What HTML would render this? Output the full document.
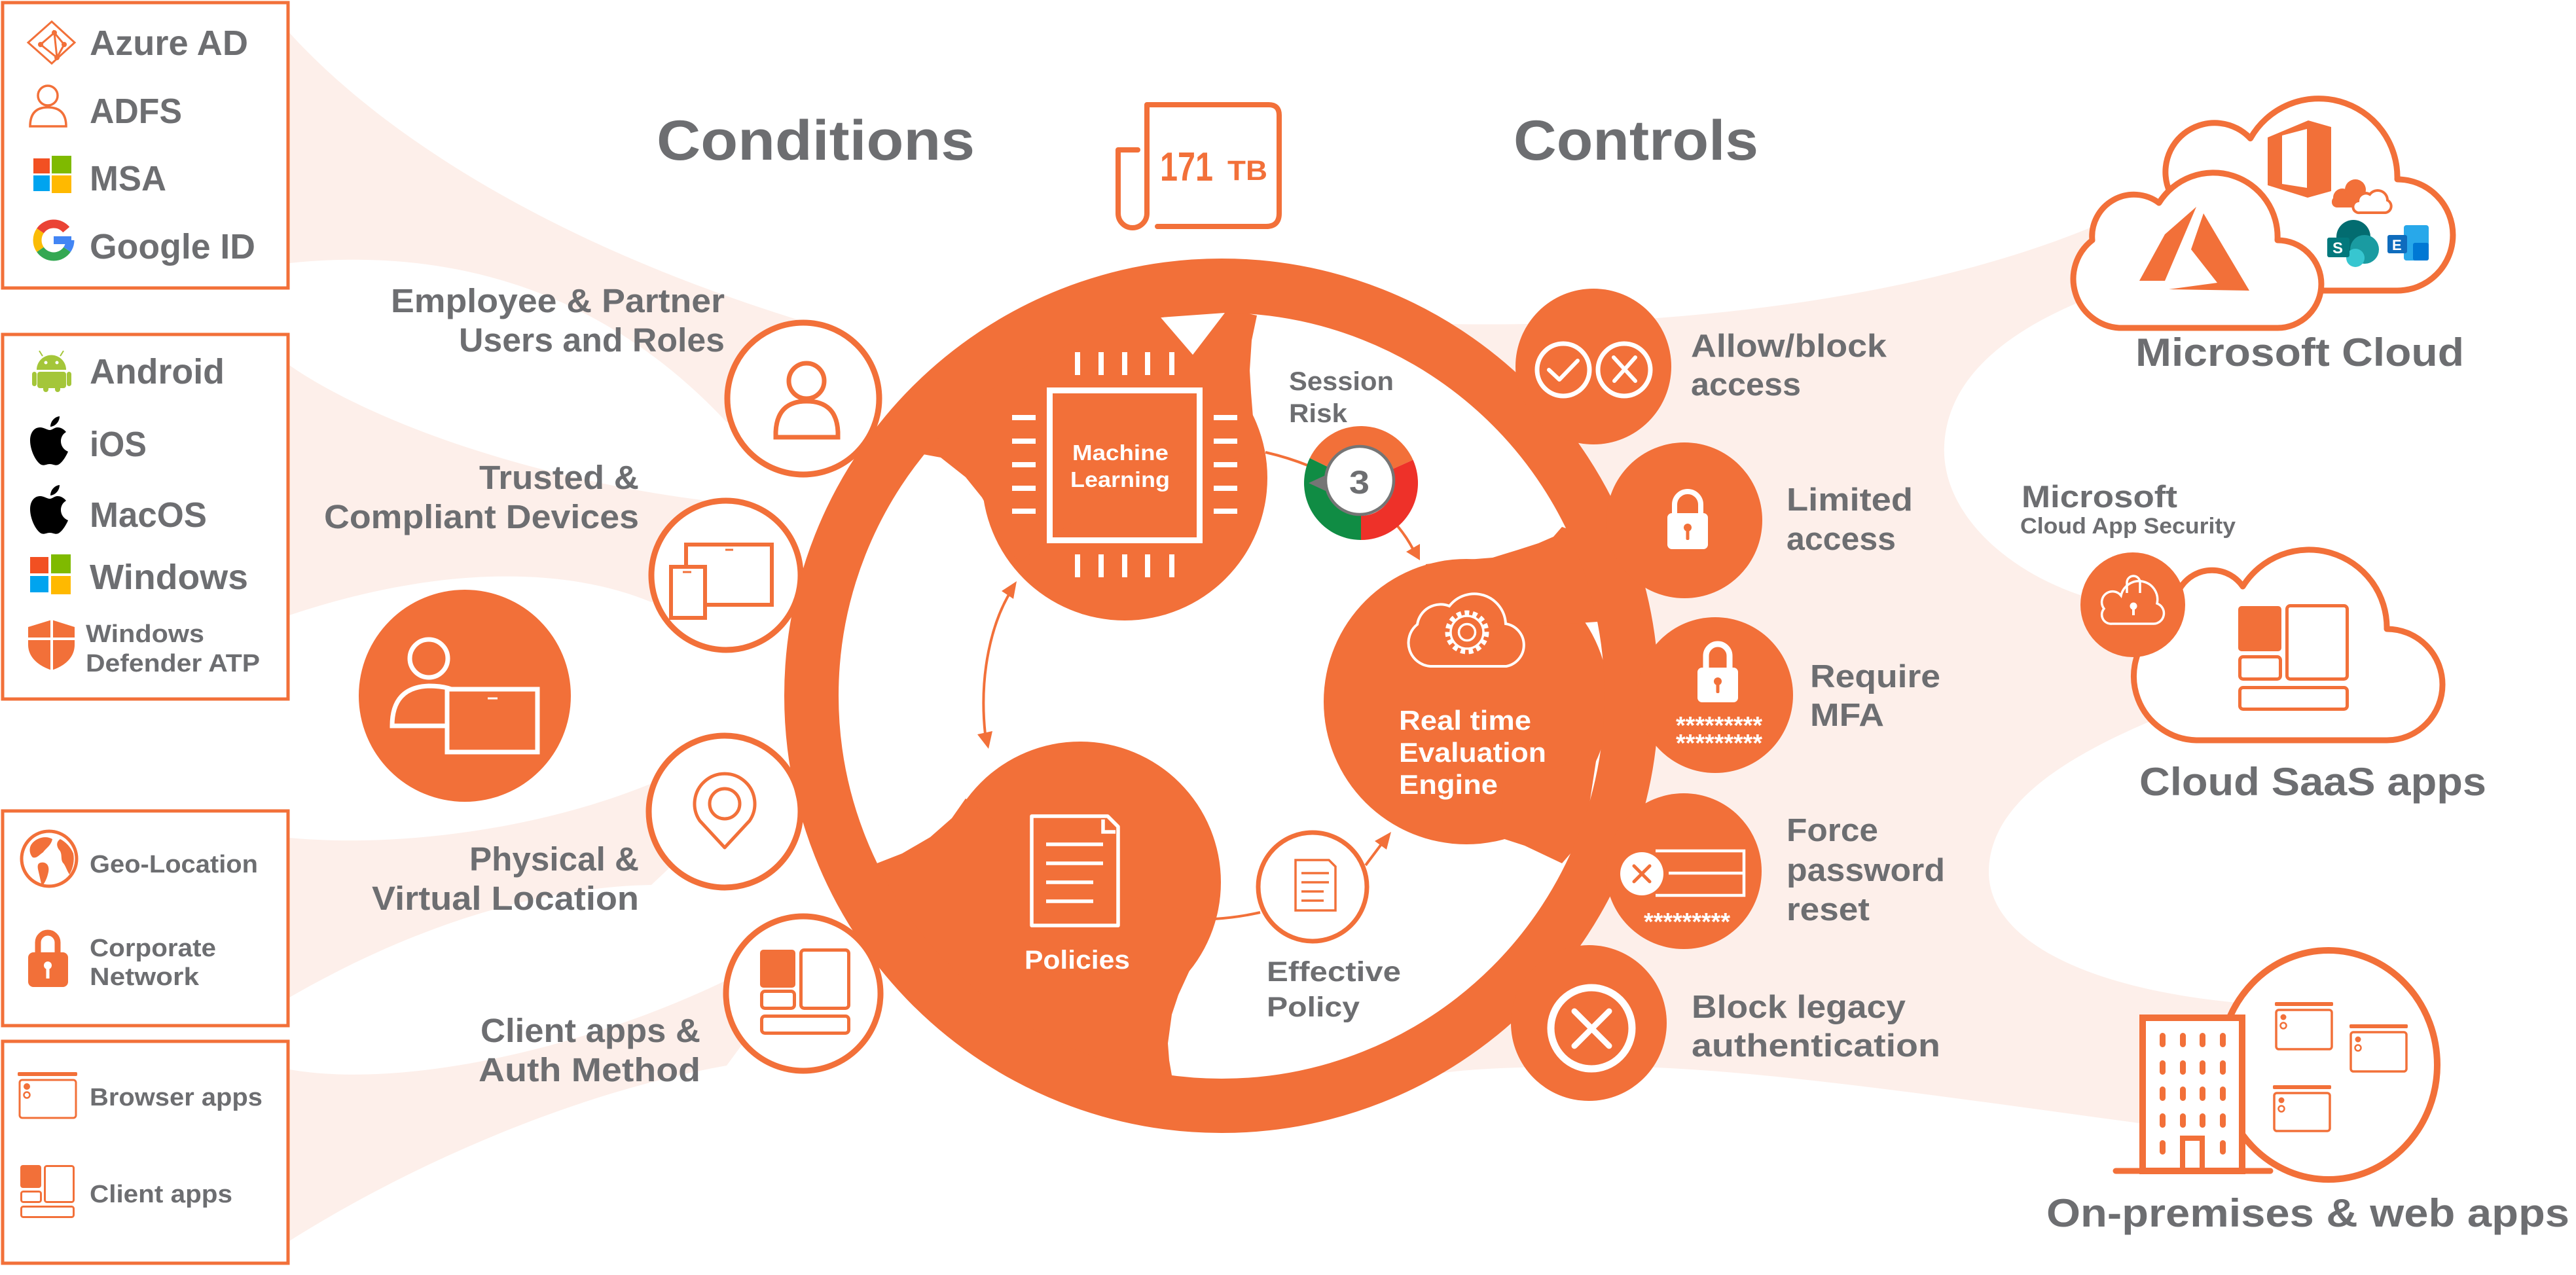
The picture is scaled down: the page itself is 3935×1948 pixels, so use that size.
<!DOCTYPE html>
<html><head><meta charset="utf-8"><style>
html,body{margin:0;padding:0;background:#fff;}
svg{display:block;}
text{font-family:"Liberation Sans",Arial,sans-serif;font-weight:700;}
</style></head><body>
<svg width="3935" height="1948" viewBox="0 0 3935 1948" xmlns="http://www.w3.org/2000/svg">
<rect width="3935" height="1948" fill="#fff"/>

<!-- pink bands -->
<g fill="#FDEFEA">
<path d="M442,50 C560,180 800,360 1230,492 L1180,600 L1110,645 C900,420 650,380 442,402 Z"/>
<path d="M442,558 C560,640 800,730 1080,765 L1050,900 L995,920 C850,860 650,870 442,940 Z"/>
<path d="M442,1280 C600,1295 820,1270 1000,1195 L1050,1300 L995,1352 C830,1355 640,1410 442,1524 Z"/>
<path d="M442,1634 C620,1665 900,1600 1115,1495 L1160,1560 L1110,1628 C900,1665 650,1765 442,1896 Z"/>
<path d="M2210,495 C2500,500 2900,470 3200,345 L3300,400 L3180,460 C3060,510 2975,580 2970,680 C2965,780 3060,870 3180,910 L3260,930 L3300,1100 L3280,1104 C3150,1160 3040,1230 3038,1330 C3036,1440 3200,1520 3470,1536 L3400,1700 L3268,1716 C3000,1680 2700,1635 2500,1630 C2350,1628 2250,1632 2200,1640 L2200,1597 L2311,1508 L2412,1378 L2474,1226 L2496,1063 L2474,900 L2412,748 L2311,618 L2227,547 Z"/>
</g>

<!-- left boxes -->
<g fill="none" stroke="#F27039" stroke-width="5">
<rect x="4" y="4" width="436" height="436"/>
<rect x="4" y="511" width="436" height="557"/>
<rect x="4" y="1239" width="436" height="328"/>
<rect x="4" y="1591" width="436" height="339"/>
</g>

<!-- box1 icons -->
<g fill="none" stroke="#F27039" stroke-width="3">
<polygon points="79,33 114,65 79,97 43,65"/>
<polyline points="83,50 62,68 87,88 83,50 98,68 87,88"/>
</g>
<g fill="#F27039"><circle cx="83" cy="50" r="4"/><circle cx="62" cy="68" r="4"/><circle cx="98" cy="68" r="4"/><circle cx="87" cy="88" r="4"/></g>
<g fill="none" stroke="#F27039" stroke-width="3.5">
<circle cx="73" cy="146" r="15"/>
<path d="M46,193 Q46,164 73,164 Q101,164 101,193 Z"/>
</g>
<rect x="51" y="242" width="25" height="23" fill="#F25022"/>
<rect x="79" y="238" width="30" height="27" fill="#7FBA00"/>
<rect x="51" y="268" width="25" height="24" fill="#00A4EF"/>
<rect x="79" y="268" width="30" height="27" fill="#FFB900"/>
<g fill="none" stroke-width="13">
<path d="M61.5,352.7 A25,25 0 0 1 101.2,350.9" stroke="#EA4335"/>
<path d="M61.5,381.3 A25,25 0 0 1 61.5,352.7" stroke="#FBBC05"/>
<path d="M102.5,381.3 A25,25 0 0 1 61.5,381.3" stroke="#34A853"/>
<path d="M107,367 A25,25 0 0 1 102.5,381.3" stroke="#4285F4"/>
</g>
<rect x="82" y="361" width="27" height="12" fill="#4285F4"/>

<!-- box1 text -->
<g fill="#6D6E71">
<text x="137" y="84" font-size="54" textLength="242" lengthAdjust="spacingAndGlyphs">Azure AD</text>
<text x="137" y="188" font-size="54" textLength="141" lengthAdjust="spacingAndGlyphs">ADFS</text>
<text x="137" y="291" font-size="54" textLength="117" lengthAdjust="spacingAndGlyphs">MSA</text>
<text x="137" y="395" font-size="54" textLength="253" lengthAdjust="spacingAndGlyphs">Google ID</text>
<text x="137" y="586" font-size="54" textLength="206" lengthAdjust="spacingAndGlyphs">Android</text>
<text x="137" y="697" font-size="54" textLength="87" lengthAdjust="spacingAndGlyphs">iOS</text>
<text x="137" y="805" font-size="54" textLength="179" lengthAdjust="spacingAndGlyphs">MacOS</text>
<text x="137" y="900" font-size="54" textLength="242" lengthAdjust="spacingAndGlyphs">Windows</text>
<text x="131" y="981" font-size="38" textLength="181" lengthAdjust="spacingAndGlyphs">Windows</text>
<text x="131" y="1026" font-size="38" textLength="266" lengthAdjust="spacingAndGlyphs">Defender ATP</text>
<text x="137" y="1333" font-size="38" textLength="257" lengthAdjust="spacingAndGlyphs">Geo-Location</text>
<text x="137" y="1461" font-size="38" textLength="193" lengthAdjust="spacingAndGlyphs">Corporate</text>
<text x="137" y="1505" font-size="38" textLength="167" lengthAdjust="spacingAndGlyphs">Network</text>
<text x="137" y="1689" font-size="38" textLength="264" lengthAdjust="spacingAndGlyphs">Browser apps</text>
<text x="137" y="1837" font-size="38" textLength="218" lengthAdjust="spacingAndGlyphs">Client apps</text>
</g>

<!-- box2 icons -->
<g fill="#A4C639">
<path d="M56,565 A22.5,22.5 0 0 1 101,565 Z"/>
<rect x="57" y="568" width="44" height="25" rx="4"/>
<rect x="49" y="568" width="7" height="22" rx="3.5"/>
<rect x="102" y="568" width="7" height="22" rx="3.5"/>
<rect x="66" y="585" width="8" height="14" rx="4"/>
<rect x="84" y="585" width="8" height="14" rx="4"/>
</g>
<g stroke="#A4C639" stroke-width="2"><line x1="65" y1="544" x2="60" y2="536"/><line x1="92" y1="544" x2="97" y2="536"/></g>
<circle cx="70" cy="554" r="2.5" fill="#fff"/><circle cx="87" cy="554" r="2.5" fill="#fff"/>
<g fill="#000">
<g transform="translate(46,636)">
<path d="M31,16 C31,8 37,1 45,0 C45,8 39,15 31,16 Z"/>
<path d="M30,21 C26,21 21,17 15,17 C7,17 0,24 0,37 C0,52 9,70 17,74 C22,76 25,73 30,73 C35,73 38,76 43,74 C49,71 55,61 58,54 C51,51 47,45 47,38 C47,32 50,27 55,24 C51,19 46,17 42,17 C37,17 34,21 30,21 Z"/>
</g>
<g transform="translate(46,741)">
<path d="M31,16 C31,8 37,1 45,0 C45,8 39,15 31,16 Z"/>
<path d="M30,21 C26,21 21,17 15,17 C7,17 0,24 0,37 C0,52 9,70 17,74 C22,76 25,73 30,73 C35,73 38,76 43,74 C49,71 55,61 58,54 C51,51 47,45 47,38 C47,32 50,27 55,24 C51,19 46,17 42,17 C37,17 34,21 30,21 Z"/>
</g>
</g>
<rect x="46" y="851" width="28" height="25" fill="#F25022"/>
<rect x="78" y="847" width="30" height="29" fill="#7FBA00"/>
<rect x="46" y="880" width="28" height="25" fill="#00A4EF"/>
<rect x="78" y="880" width="30" height="28" fill="#FFB900"/>
<path d="M43,958 L79,947 L114,958 L114,985 C114,1005 98,1018 79,1024 C60,1018 43,1005 43,985 Z" fill="#F27039"/>
<path d="M79,947 V1024 M43,976 H114" stroke="#fff" stroke-width="4"/>

<!-- box3 icons -->
<circle cx="75" cy="1312" r="42" fill="#fff" stroke="#F27039" stroke-width="5"/>
<g fill="#F27039">
<path d="M48,1290 C55,1280 70,1276 80,1282 C78,1292 70,1296 66,1302 C60,1306 56,1312 50,1310 C45,1305 44,1296 48,1290 Z"/>
<path d="M62,1318 C70,1316 76,1322 74,1332 C72,1342 68,1350 64,1354 C62,1346 60,1336 58,1328 C57,1322 58,1319 62,1318 Z"/>
<path d="M92,1282 C100,1286 108,1294 112,1304 C114,1314 112,1326 106,1336 C102,1330 100,1322 96,1318 C92,1312 96,1304 90,1298 C86,1292 86,1286 92,1282 Z"/>
</g>
<path d="M58,1458 V1440 A15,15 0 0 1 88,1440 V1458" fill="none" stroke="#F27039" stroke-width="9"/>
<rect x="43" y="1455" width="61" height="53" rx="8" fill="#F27039"/>
<circle cx="73" cy="1475" r="6" fill="#fff"/><rect x="70.5" y="1475" width="5" height="20" fill="#fff"/>

<!-- box4 icons -->
<g transform="translate(27,1641)">
<rect x="0" y="-3" width="91" height="6" rx="2" fill="#F27039"/>
<rect x="3" y="9" width="86" height="58" rx="4" fill="#fff" stroke="#F27039" stroke-width="3"/>
<circle cx="14" cy="19" r="5" fill="#F27039"/>
<circle cx="14" cy="32" r="4.5" fill="none" stroke="#F27039" stroke-width="2.5"/>
</g>
<rect x="31" y="1780" width="32" height="35" rx="4" fill="#F27039"/>
<g fill="none" stroke="#F27039" stroke-width="3">
<rect x="68.5" y="1781.5" width="44" height="55" rx="3"/>
<rect x="32.5" y="1820.5" width="30" height="16" rx="3"/>
<rect x="32.5" y="1843.5" width="80" height="16" rx="3"/>
</g>

<!-- left labels -->
<g fill="#6D6E71" font-size="51">
<text x="597" y="477" font-size="51" textLength="510" lengthAdjust="spacingAndGlyphs">Employee &amp; Partner</text>
<text x="701" y="537" font-size="51" textLength="406" lengthAdjust="spacingAndGlyphs">Users and Roles</text>
<text x="732" y="747" font-size="51" textLength="244" lengthAdjust="spacingAndGlyphs">Trusted &amp;</text>
<text x="495" y="807" font-size="51" textLength="481" lengthAdjust="spacingAndGlyphs">Compliant Devices</text>
<text x="717" y="1330" font-size="51" textLength="259" lengthAdjust="spacingAndGlyphs">Physical &amp;</text>
<text x="568" y="1390" font-size="51" textLength="408" lengthAdjust="spacingAndGlyphs">Virtual Location</text>
<text x="734" y="1592" font-size="51" textLength="336" lengthAdjust="spacingAndGlyphs">Client apps &amp;</text>
<text x="731" y="1652" font-size="51" textLength="339" lengthAdjust="spacingAndGlyphs">Auth Method</text>
</g>

<!-- titles -->
<g fill="#6D6E71">
<text x="1003" y="244" font-size="86" textLength="486" lengthAdjust="spacingAndGlyphs">Conditions</text>
<text x="2312" y="244" font-size="86" textLength="374" lengthAdjust="spacingAndGlyphs">Controls</text>
</g>

<!-- 171 TB scroll -->
<path d="M1738,229 L1708,229 L1708,326 A22,22 0 0 0 1752,326 L1752,160 L1938,160 Q1954,160 1954,176 L1954,326 Q1954,346 1934,346 L1768,346" fill="none" stroke="#F27039" stroke-width="8" stroke-linecap="round" stroke-linejoin="round"/>
<text x="1772" y="276" font-size="62" fill="#F27039" textLength="81" lengthAdjust="spacingAndGlyphs">171</text>
<text x="1875" y="275" font-size="43" fill="#F27039" textLength="61" lengthAdjust="spacingAndGlyphs">TB</text>

<!-- left outline circles -->
<g fill="#fff" stroke="#F27039" stroke-width="9">
<circle cx="1227" cy="609" r="116"/>
<circle cx="1109" cy="879" r="114"/>
<circle cx="1107" cy="1240" r="116"/>
<circle cx="1227" cy="1518" r="118"/>
</g>
<!-- user icon -->
<g fill="none" stroke="#F27039" stroke-width="7">
<circle cx="1232" cy="582" r="27"/>
<path d="M1185,668 L1185,660 Q1187,613 1232,613 Q1278,613 1280,660 L1280,668 Z"/>
</g>
<!-- devices icon -->
<g stroke="#F27039" stroke-width="6">
<rect x="1048" y="832" width="131" height="92" fill="#fff"/>
<rect x="1025" y="866" width="52" height="78" fill="#fff"/>
</g>
<g stroke="#F27039" stroke-width="3"><line x1="1108" y1="840" x2="1120" y2="840"/><line x1="1043" y1="874" x2="1056" y2="874"/></g>
<!-- pin icon -->
<g fill="none" stroke="#F27039" stroke-width="5">
<path d="M1107,1295 L1069,1254 A46,46 0 1 1 1145,1254 Z" stroke-linejoin="round"/>
<circle cx="1107" cy="1228" r="23"/>
</g>
<!-- client apps icon -->
<rect x="1161" y="1451" width="54" height="58" rx="5" fill="#F27039"/>
<g fill="none" stroke="#F27039" stroke-width="5">
<rect x="1223.5" y="1451.5" width="73" height="89" rx="5"/>
<rect x="1163.5" y="1514.5" width="50" height="26" rx="5"/>
<rect x="1163.5" y="1552.5" width="133" height="26" rx="5"/>
</g>

<!-- person laptop -->
<circle cx="710" cy="1063" r="162" fill="#F27039"/>
<g fill="none" stroke="#fff" stroke-width="7">
<circle cx="655" cy="1006" r="29"/>
<path d="M700,1109 L599,1109 Q599,1050 655,1048 Q690,1048 705,1062"/>
</g>
<rect x="683" y="1053" width="138" height="96" fill="#F27039" stroke="#fff" stroke-width="7"/>
<line x1="745" y1="1067" x2="760" y2="1067" stroke="#fff" stroke-width="3"/>

<!-- central orange structure -->
<g fill="#F27039">
<circle cx="1718" cy="730" r="218"/>
<polygon points="1410,694 1437,699 1475,729 1500,760 1519,794 1529,821 1545,845 1557,859 1700,750 1931,688 1922,665 1914,637 1911,600 1909,566 1912,520 1920,482 1866,470 1700,485 1550,525 1430,600 1395,660"/>
<circle cx="1650" cy="1348" r="215"/>
<polygon points="1337,1320 1378,1304 1421,1279 1454,1250 1475,1220 1650,1348 1855,1404 1836,1445 1817,1483 1800,1520 1790,1550 1784,1594 1786,1620 1790,1643 1757,1680 1601,1630 1464,1543 1353,1422 1313,1357"/>
<circle cx="2240" cy="1072" r="218"/>
<polygon points="2178,862 2230,856 2280,852 2319,840 2350,830 2373,820 2386,805 2430,820 2440,950 2300,960 2178,900"/>
<polygon points="2286,1278 2329,1292 2386,1319 2420,1280 2440,1150 2300,1200"/>
</g>
<polygon points="1773,485 1871,478 1822,542" fill="#fff"/>
<circle cx="1866" cy="1063" r="626.5" fill="none" stroke="#F27039" stroke-width="83"/>

<!-- control circles -->
<g fill="#F27039">
<circle cx="2434" cy="560" r="119"/>
<circle cx="2573" cy="795" r="119"/>
<circle cx="2620" cy="1062" r="119"/>
<circle cx="2572" cy="1331" r="119"/>
<circle cx="2427" cy="1563" r="119"/>
</g>

<!-- chip -->
<rect x="1603.5" y="596.5" width="229" height="229" fill="none" stroke="#fff" stroke-width="9"/>
<g fill="#fff">
<rect x="1642" y="538" width="8" height="35"/><rect x="1678" y="538" width="8" height="35"/><rect x="1714" y="538" width="8" height="35"/><rect x="1749" y="538" width="8" height="35"/><rect x="1786" y="538" width="8" height="35"/>
<rect x="1642" y="847" width="8" height="35"/><rect x="1678" y="847" width="8" height="35"/><rect x="1714" y="847" width="8" height="35"/><rect x="1749" y="847" width="8" height="35"/><rect x="1786" y="847" width="8" height="35"/>
<rect x="1546" y="634" width="36" height="8"/><rect x="1546" y="670" width="36" height="8"/><rect x="1546" y="706" width="36" height="8"/><rect x="1546" y="742" width="36" height="8"/><rect x="1546" y="777" width="36" height="8"/>
<rect x="1854" y="634" width="36" height="8"/><rect x="1854" y="670" width="36" height="8"/><rect x="1854" y="706" width="36" height="8"/><rect x="1854" y="742" width="36" height="8"/><rect x="1854" y="777" width="36" height="8"/>
</g>
<g fill="#fff">
<text x="1638" y="703" font-size="33" textLength="147" lengthAdjust="spacingAndGlyphs">Machine</text>
<text x="1635" y="744" font-size="33" textLength="152" lengthAdjust="spacingAndGlyphs">Learning</text>
</g>

<!-- policies doc -->
<g fill="none" stroke="#fff" stroke-width="5.5">
<path d="M1576,1247 L1692,1247 L1708,1263 L1708,1414 L1576,1414 Z" stroke-linejoin="round"/>
<path d="M1685,1252 L1685,1271 L1704,1271"/>
<path d="M1598,1290 H1685 M1598,1319 H1685 M1598,1348 H1670 M1598,1377 H1670"/>
</g>
<text x="1565" y="1480" font-size="40" fill="#fff" textLength="161" lengthAdjust="spacingAndGlyphs">Policies</text>

<!-- engine -->
<path d="M2185,1018 L2301,1018 A33,33 0 0 0 2300,953 A48,48 0 0 0 2214,926 A36,36 0 0 0 2165,954 A36,36 0 0 0 2185,1018 Z" fill="none" stroke="#fff" stroke-width="4"/>
<circle cx="2241" cy="966" r="30" fill="none" stroke="#fff" stroke-width="7" stroke-dasharray="7 5.5"/>
<circle cx="2241" cy="966" r="25" fill="#F27039" stroke="#fff" stroke-width="3.5"/>
<circle cx="2241" cy="966" r="12.5" fill="none" stroke="#fff" stroke-width="3.5"/>
<g fill="#fff">
<text x="2137" y="1115" font-size="42" textLength="202" lengthAdjust="spacingAndGlyphs">Real time</text>
<text x="2137" y="1164" font-size="42" textLength="225" lengthAdjust="spacingAndGlyphs">Evaluation</text>
<text x="2137" y="1213" font-size="42" textLength="151" lengthAdjust="spacingAndGlyphs">Engine</text>
</g>

<!-- arrows -->
<g fill="none" stroke="#F27039" stroke-width="4">
<path d="M1545,902 C1515,950 1495,1030 1505,1122"/>
<path d="M1933,691 Q1968,699 2000,712"/>
<path d="M2135,804 Q2150,822 2160,842"/>
<path d="M1855,1404 Q1890,1402 1925,1394"/>
<path d="M2086,1322 L2110,1290"/>
</g>
<g fill="#F27039">
<polygon points="1553,888 1548,915 1530,903"/>
<polygon points="1510,1144 1516,1117 1493,1122"/>
<polygon points="2169,856 2148,843 2169,831"/>
<polygon points="2125,1271 2100,1285 2118,1298"/>
</g>

<!-- effective policy -->
<circle cx="2005" cy="1355" r="83" fill="#fff" stroke="#F27039" stroke-width="7"/>
<g fill="none" stroke="#F27039" stroke-width="3.5">
<path d="M1979,1314 L2030,1314 L2040,1324 L2040,1391 L1979,1391 Z"/>
<path d="M1988,1334 H2030 M1988,1348 H2030 M1988,1362 H2022 M1988,1376 H2022"/>
</g>
<g fill="#6D6E71">
<text x="1935" y="1499" font-size="43" textLength="205" lengthAdjust="spacingAndGlyphs">Effective</text>
<text x="1935" y="1553" font-size="43" textLength="142" lengthAdjust="spacingAndGlyphs">Policy</text>
<text x="1969" y="596" font-size="40" textLength="160" lengthAdjust="spacingAndGlyphs">Session</text>
<text x="1969" y="645" font-size="40" textLength="89" lengthAdjust="spacingAndGlyphs">Risk</text>
</g>

<!-- gauge -->
<path d="M2079,825 A87,87 0 0 1 2000.8,699.9 L2034.1,716.1 A50,50 0 0 0 2079,788 Z" fill="#108C44"/>
<path d="M2000.8,699.9 A87,87 0 0 1 2158.5,702.6 L2124.7,717.7 A50,50 0 0 0 2034.1,716.1 Z" fill="#F27039"/>
<path d="M2158.5,702.6 A87,87 0 0 1 2079,825 L2079,788 A50,50 0 0 0 2124.7,717.7 Z" fill="#EE3129"/>
<circle cx="2077" cy="734" r="52" fill="#fff" stroke="#757575" stroke-width="4.5"/>
<polygon points="1999,738 2027,725 2027,751" fill="#757575"/>
<text x="2061" y="754" font-size="50" fill="#6D6E71" textLength="31" lengthAdjust="spacingAndGlyphs">3</text>

<!-- control icons -->
<g fill="none" stroke="#fff" stroke-width="7">
<circle cx="2388" cy="565" r="40"/>
<circle cx="2481" cy="565" r="40"/>
</g>
<g fill="none" stroke="#fff" stroke-width="6" stroke-linecap="round" stroke-linejoin="round">
<polyline points="2366,565 2382,580 2410,551"/>
<path d="M2465,546 L2498,582 M2498,546 L2466,582"/>
</g>
<path d="M2558,788 V771 A20,20 0 0 1 2598,771 V788" fill="none" stroke="#fff" stroke-width="8"/>
<rect x="2547" y="784" width="62" height="55" rx="7" fill="#fff"/>
<circle cx="2578" cy="806" r="6" fill="#F27039"/><rect x="2575.5" y="806" width="5" height="19" rx="2" fill="#F27039"/>
<path d="M2606,1023 V1002 A18,18 0 0 1 2642,1002 V1023" fill="none" stroke="#fff" stroke-width="9"/>
<rect x="2593" y="1020" width="62" height="53" rx="7" fill="#fff"/>
<circle cx="2624" cy="1041" r="6" fill="#F27039"/><rect x="2621.5" y="1041" width="5" height="18" rx="2" fill="#F27039"/>
<g fill="#fff">
<text x="2560" y="1121" font-size="38" textLength="132" lengthAdjust="spacingAndGlyphs">*********</text>
<text x="2560" y="1148" font-size="38" textLength="132" lengthAdjust="spacingAndGlyphs">*********</text>
<text x="2511" y="1421" font-size="38" textLength="132" lengthAdjust="spacingAndGlyphs">*********</text>
</g>
<path d="M2529,1300 H2664 V1368 H2529 M2549,1334 H2664" fill="none" stroke="#fff" stroke-width="4.5"/>
<circle cx="2508" cy="1335" r="33" fill="#fff"/>
<path d="M2496,1323 L2520,1347 M2520,1323 L2496,1347" stroke="#F27039" stroke-width="5" stroke-linecap="round"/>
<circle cx="2431" cy="1571" r="62" fill="none" stroke="#fff" stroke-width="11"/>
<path d="M2405,1545 L2458,1598 M2458,1545 L2405,1598" stroke="#fff" stroke-width="9" stroke-linecap="round"/>

<!-- control labels -->
<g fill="#6D6E71">
<text x="2583" y="545" font-size="49" textLength="299" lengthAdjust="spacingAndGlyphs">Allow/block</text>
<text x="2583" y="604" font-size="49" textLength="168" lengthAdjust="spacingAndGlyphs">access</text>
<text x="2729" y="780" font-size="49" textLength="193" lengthAdjust="spacingAndGlyphs">Limited</text>
<text x="2729" y="840" font-size="49" textLength="167" lengthAdjust="spacingAndGlyphs">access</text>
<text x="2765" y="1050" font-size="49" textLength="199" lengthAdjust="spacingAndGlyphs">Require</text>
<text x="2765" y="1109" font-size="49" textLength="113" lengthAdjust="spacingAndGlyphs">MFA</text>
<text x="2729" y="1285" font-size="49" textLength="140" lengthAdjust="spacingAndGlyphs">Force</text>
<text x="2729" y="1346" font-size="49" textLength="242" lengthAdjust="spacingAndGlyphs">password</text>
<text x="2729" y="1406" font-size="49" textLength="127" lengthAdjust="spacingAndGlyphs">reset</text>
<text x="2584" y="1555" font-size="49" textLength="327" lengthAdjust="spacingAndGlyphs">Block legacy</text>
<text x="2584" y="1614" font-size="49" textLength="380" lengthAdjust="spacingAndGlyphs">authentication</text>
</g>

<!-- Microsoft Cloud -->
<path d="M3540,444 L3662,444 A85,85 0 0 0 3662,274 A120,120 0 0 0 3437.6,211.5 A75,75 0 0 0 3314.5,293.6 L3350,444 Z" fill="#fff" stroke="#F27039" stroke-width="9" stroke-linejoin="round"/>
<path d="M3237,501 L3479,501 A67,67 0 0 0 3479,367 A98,98 0 0 0 3298,310 A64,64 0 0 0 3196,367 A75,75 0 0 0 3237,501 Z" fill="#fff" stroke="#F27039" stroke-width="9" stroke-linejoin="round"/>
<g fill="#F27039">
<polygon points="3268,429 3307,358 3355,316 3307,429"/>
<polygon points="3366,326 3436,444 3313,442 3387,432 3347,381"/>
<path fill-rule="evenodd" d="M3464,210 L3526,184 L3561,194 L3561,292 L3525,302 L3464,283 Z M3486,207 L3524,197 L3524,287 L3486,281 Z"/>
<circle cx="3578" cy="302" r="14"/><circle cx="3598" cy="290" r="16"/><circle cx="3614" cy="304" r="11"/>
<rect x="3562" y="300" width="60" height="17" rx="8"/>
</g>
<path d="M3605,325 L3643,325 A10,10 0 0 0 3647,306 A15,15 0 0 0 3620,297 A12,12 0 0 0 3602,307 A9,9 0 0 0 3605,325 Z" fill="#fff" stroke="#F27039" stroke-width="4"/>
<circle cx="3595" cy="362" r="26" fill="#036C70"/>
<circle cx="3612" cy="381" r="22" fill="#1A9BA1"/>
<circle cx="3598" cy="394" r="14" fill="#37C6D0"/>
<rect x="3555" y="363" width="34" height="30" rx="3" fill="#03787C"/>
<text x="3563" y="387" font-size="24" fill="#fff">S</text>
<rect x="3672" y="344" width="38" height="54" rx="4" fill="#28A8EA"/>
<rect x="3686" y="371" width="24" height="27" rx="3" fill="#0078D4"/>
<rect x="3647" y="359" width="30" height="28" rx="3" fill="#0F6CBD"/>
<text x="3654" y="382" font-size="22" fill="#fff">E</text>
<text x="3262" y="559" font-size="60" fill="#6D6E71" textLength="502" lengthAdjust="spacingAndGlyphs">Microsoft Cloud</text>

<!-- Cloud SaaS -->
<path d="M3355,1131 L3646,1131 A85,85 0 0 0 3646,961 A119,119 0 0 0 3426,896 A57,57 0 0 0 3332,896 L3290,962 A98,98 0 0 0 3355,1131 Z" fill="#fff" stroke="#F27039" stroke-width="9" stroke-linejoin="round"/>
<rect x="3419" y="926" width="66" height="69" rx="5" fill="#F27039"/>
<g fill="none" stroke="#F27039" stroke-width="5">
<rect x="3493.5" y="925.5" width="92" height="112" rx="5"/>
<rect x="3421.5" y="1003.5" width="62" height="34" rx="5"/>
<rect x="3421.5" y="1050.5" width="164" height="33" rx="5"/>
</g>
<circle cx="3258" cy="924" r="80" fill="#F27039"/>
<path d="M3249,906 V890 A10,10 0 0 1 3269,890 V906" fill="none" stroke="#fff" stroke-width="3.5"/>
<path d="M3226,953 L3290,953 A16,16 0 0 0 3295,922 A28,28 0 0 0 3240,910 A16,16 0 0 0 3214,930 A14,14 0 0 0 3226,953 Z" fill="none" stroke="#fff" stroke-width="3.5"/>
<circle cx="3259" cy="926" r="5.5" fill="#fff"/><rect x="3257" y="926" width="4" height="14" fill="#fff"/>
<g fill="#6D6E71">
<text x="3088" y="775" font-size="47" textLength="238" lengthAdjust="spacingAndGlyphs">Microsoft</text>
<text x="3086" y="815" font-size="34" textLength="329" lengthAdjust="spacingAndGlyphs">Cloud App Security</text>
<text x="3268" y="1215" font-size="60" textLength="530" lengthAdjust="spacingAndGlyphs">Cloud SaaS apps</text>
<text x="3126" y="1874" font-size="60" textLength="799" lengthAdjust="spacingAndGlyphs">On-premises &amp; web apps</text>
</g>

<!-- on-prem -->
<ellipse cx="3557" cy="1627" rx="166" ry="175" fill="#fff" stroke="#F27039" stroke-width="10"/>
<g>
<g transform="translate(3475,1534)">
<rect x="0" y="-3" width="89" height="6" rx="2" fill="#F27039"/>
<rect x="2" y="9" width="85" height="60" rx="4" fill="#fff" stroke="#F27039" stroke-width="3.5"/>
<circle cx="13" cy="20" r="4.5" fill="#F27039"/><circle cx="13" cy="33" r="4.5" fill="none" stroke="#F27039" stroke-width="2.5"/>
</g>
<g transform="translate(3589,1568)">
<rect x="0" y="-3" width="89" height="6" rx="2" fill="#F27039"/>
<rect x="2" y="9" width="85" height="60" rx="4" fill="#fff" stroke="#F27039" stroke-width="3.5"/>
<circle cx="13" cy="20" r="4.5" fill="#F27039"/><circle cx="13" cy="33" r="4.5" fill="none" stroke="#F27039" stroke-width="2.5"/>
</g>
<g transform="translate(3472,1661)">
<rect x="0" y="-3" width="89" height="6" rx="2" fill="#F27039"/>
<rect x="2" y="9" width="85" height="58" rx="4" fill="#fff" stroke="#F27039" stroke-width="3.5"/>
<circle cx="13" cy="20" r="4.5" fill="#F27039"/><circle cx="13" cy="33" r="4.5" fill="none" stroke="#F27039" stroke-width="2.5"/>
</g>
</g>
<rect x="3273" y="1555" width="152" height="234" fill="#fff" stroke="#F27039" stroke-width="10"/>
<g fill="#F27039">
<rect x="3299" y="1578" width="9" height="22" rx="4.5"/><rect x="3330" y="1578" width="9" height="22" rx="4.5"/><rect x="3360" y="1578" width="9" height="22" rx="4.5"/><rect x="3391" y="1578" width="9" height="22" rx="4.5"/>
<rect x="3299" y="1620" width="9" height="22" rx="4.5"/><rect x="3330" y="1620" width="9" height="22" rx="4.5"/><rect x="3360" y="1620" width="9" height="22" rx="4.5"/><rect x="3391" y="1620" width="9" height="22" rx="4.5"/>
<rect x="3299" y="1660" width="9" height="22" rx="4.5"/><rect x="3330" y="1660" width="9" height="22" rx="4.5"/><rect x="3360" y="1660" width="9" height="22" rx="4.5"/><rect x="3391" y="1660" width="9" height="22" rx="4.5"/>
<rect x="3299" y="1701" width="9" height="22" rx="4.5"/><rect x="3330" y="1701" width="9" height="22" rx="4.5"/><rect x="3360" y="1701" width="9" height="22" rx="4.5"/><rect x="3391" y="1701" width="9" height="22" rx="4.5"/>
<rect x="3299" y="1742" width="9" height="22" rx="4.5"/><rect x="3391" y="1742" width="9" height="22" rx="4.5"/>
</g>
<rect x="3334" y="1739" width="30" height="50" fill="none" stroke="#F27039" stroke-width="8"/>
<line x1="3232" y1="1789" x2="3468" y2="1789" stroke="#F27039" stroke-width="9" stroke-linecap="round"/>
</svg>
</body></html>
